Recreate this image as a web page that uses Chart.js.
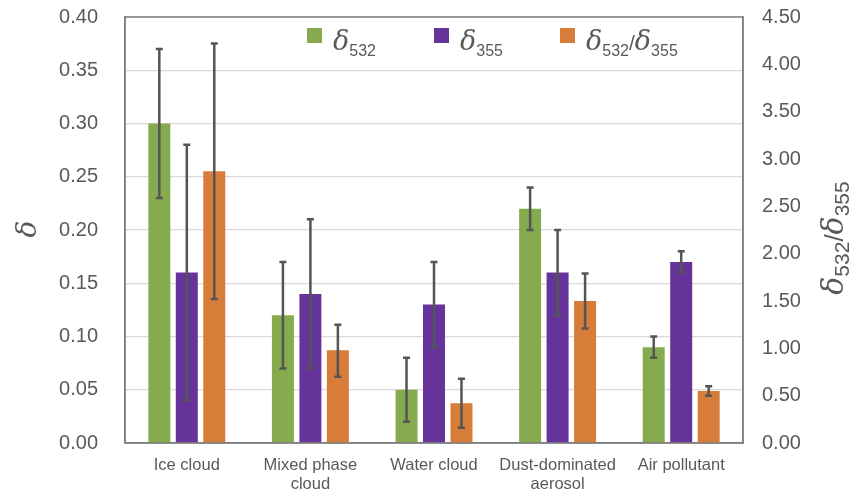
<!DOCTYPE html>
<html>
<head>
<meta charset="utf-8">
<script src="https://cdn.jsdelivr.net/npm/chart.js@4/dist/chart.umd.min.js"></script>
<style>
  html, body { margin: 0; padding: 0; background: #ffffff; overflow: hidden; }
  #wrap { position: relative; width: 859px; height: 496px; overflow: hidden; }
  #chart { position: absolute; left: 0; top: -22px; }
  #overlay { position: absolute; left: 0; top: 0; }
  .g { font-family: "DejaVu Serif", "Liberation Serif", serif; font-style: italic; }
  .n { font-family: "Liberation Sans", Arial, sans-serif; font-style: normal; }
</style>
</head>
<body>
<div id="wrap">
  <canvas id="chart" width="859" height="518"></canvas>
  <svg id="overlay" width="859" height="496" fill="#595959">
    <!-- legend -->
    <rect x="307" y="28" width="15" height="15" fill="#86ab4e"/>
    <text y="50"><tspan x="333" class="g" font-size="27">δ</tspan><tspan class="n" font-size="16" dy="6">532</tspan></text>
    <rect x="434" y="28" width="15" height="15" fill="#66339b"/>
    <text y="50"><tspan x="460" class="g" font-size="27">δ</tspan><tspan class="n" font-size="16" dy="6">355</tspan></text>
    <rect x="560" y="28" width="15" height="15" fill="#d77c39"/>
    <text y="50"><tspan x="586" class="g" font-size="27">δ</tspan><tspan class="n" font-size="16" dy="6">532</tspan><tspan class="n" font-size="21" dy="-6">/</tspan><tspan class="g" font-size="27">δ</tspan><tspan class="n" font-size="16" dy="6">355</tspan></text>
    <!-- axis titles -->
    <text transform="translate(36,229) rotate(-90)" text-anchor="middle" class="g" font-size="28">δ</text>
    <text transform="translate(843,238) rotate(-90)" text-anchor="middle"><tspan class="g" font-size="30">δ</tspan><tspan class="n" font-size="21" dy="6">532</tspan><tspan class="n" font-size="26" dy="-6">/</tspan><tspan class="g" font-size="30">δ</tspan><tspan class="n" font-size="21" dy="6">355</tspan></text>
  </svg>
</div>

<script>
// Depolarization ratios by scene type
const categories = ['Ice cloud', ['Mixed phase', 'cloud'], 'Water cloud', ['Dust-dominated', 'aerosol'], 'Air pollutant'];

const delta532     = [0.30, 0.12, 0.05, 0.22, 0.09];
const delta532Low  = [0.23, 0.07, 0.02, 0.20, 0.08];
const delta532High = [0.37, 0.17, 0.08, 0.24, 0.10];

const delta355     = [0.16, 0.14, 0.13, 0.16, 0.17];
const delta355Low  = [0.04, 0.07, 0.09, 0.12, 0.16];
const delta355High = [0.28, 0.21, 0.17, 0.20, 0.18];

const ratio     = [2.87, 0.98, 0.42, 1.50, 0.55];
const ratioLow  = [1.52, 0.70, 0.16, 1.21, 0.50];
const ratioHigh = [4.22, 1.25, 0.68, 1.79, 0.60];

const leftTicks  = [0, 0.05, 0.10, 0.15, 0.20, 0.25, 0.30, 0.35, 0.40];
const rightTicks = [0, 0.5, 1.0, 1.5, 2.0, 2.5, 3.0, 3.5, 4.0, 4.5];

const TEXT = '#595959';

// Whisker drawing for each bar, using the bar's own scale
const errorBars = {
  id: 'errorBars',
  afterDatasetsDraw(chart) {
    const ctx = chart.ctx;
    ctx.save();
    ctx.strokeStyle = '#555555';
    ctx.lineWidth = 2.5;
    chart.data.datasets.forEach((ds, i) => {
      const meta = chart.getDatasetMeta(i);
      const scale = chart.scales[ds.yAxisID];
      meta.data.forEach((bar, j) => {
        const yLo = scale.getPixelForValue(ds.errLow[j]);
        const yHi = scale.getPixelForValue(ds.errHigh[j]);
        const x = bar.x;
        ctx.beginPath();
        ctx.moveTo(x, yLo); ctx.lineTo(x, yHi);
        ctx.moveTo(x - 3.5, yLo); ctx.lineTo(x + 3.5, yLo);
        ctx.moveTo(x - 3.5, yHi); ctx.lineTo(x + 3.5, yHi);
        ctx.stroke();
      });
    });
    ctx.restore();
  }
};

// Frame around the plot area
const frame = {
  id: 'frame',
  afterDraw(chart) {
    const a = chart.chartArea;
    const ctx = chart.ctx;
    ctx.save();
    ctx.strokeStyle = '#7f7f7f';
    ctx.lineWidth = 1.5;
    ctx.strokeRect(a.left, a.top, a.right - a.left, a.bottom - a.top);
    ctx.restore();
  }
};

new Chart(document.getElementById('chart'), {
  type: 'bar',
  data: {
    labels: categories,
    datasets: [
      { label: 'δ532', data: delta532, errLow: delta532Low, errHigh: delta532High, yAxisID: 'y', backgroundColor: '#86ab4e' },
      { label: 'δ355', data: delta355, errLow: delta355Low, errHigh: delta355High, yAxisID: 'y', backgroundColor: '#66339b' },
      { label: 'δ532/δ355', data: ratio, errLow: ratioLow, errHigh: ratioHigh, yAxisID: 'y1', backgroundColor: '#d77c39' }
    ]
  },
  options: {
    responsive: false,
    animation: false,
    devicePixelRatio: 1,
    layout: { padding: { top: -3, bottom: 0, left: 0, right: 0 } },
    datasets: { bar: { categoryPercentage: 0.667, barPercentage: 0.8, borderWidth: 0 } },
    plugins: { legend: { display: false }, tooltip: { enabled: false } },
    scales: {
      x: {
        grid: { display: false, drawTicks: false },
        border: { display: true, color: '#7f7f7f', width: 1.5 },
        ticks: { color: TEXT, font: { family: 'Liberation Sans', size: 16.5, lineHeight: 1.15 }, padding: 13, maxRotation: 0, autoSkip: false },
        afterFit(s) { s.height = 53; }
      },
      y: {
        position: 'left',
        min: 0, max: 0.40,
        afterBuildTicks(s) { s.ticks = leftTicks.map(v => ({ value: v })); },
        grid: { color: '#d9d9d9', lineWidth: 1.2, drawTicks: false },
        border: { display: true, color: '#7f7f7f', width: 1.5 },
        ticks: { color: TEXT, font: { family: 'Liberation Sans', size: 20 }, padding: 27, callback: v => v.toFixed(2) },
        afterFit(s) { s.width = 125; }
      },
      y1: {
        position: 'right',
        min: 0, max: 4.5,
        afterBuildTicks(s) { s.ticks = rightTicks.map(v => ({ value: v })); },
        grid: { display: false, drawTicks: false },
        border: { display: true, color: '#7f7f7f', width: 1.5 },
        ticks: { color: TEXT, font: { family: 'Liberation Sans', size: 20 }, padding: 19, callback: v => v.toFixed(2) },
        afterFit(s) { s.width = 116; }
      }
    }
  },
  plugins: [errorBars, frame]
});
</script>
</body>
</html>
